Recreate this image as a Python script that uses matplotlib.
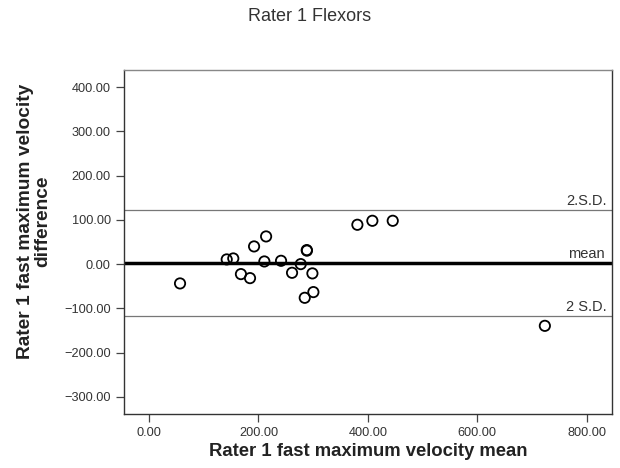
import matplotlib
matplotlib.use('Agg')
import matplotlib.pyplot as plt

plt.rcParams['font.family'] = ['Liberation Sans', 'DejaVu Sans']

# data
mean_vals = [56.7, 142, 154, 168, 184.6, 192, 214, 210.8, 241.3, 261.4,
             277.3, 288.3, 288.6, 298.6, 300.4, 284.6, 380.8, 408.2, 445.4, 723.4]
diff_vals = [-43.7, 10.6, 12.8, -22.6, -31.7, 40, 62.6, 6, 7.5, -19.6,
             0, 31.7, 30.5, -21, -63.3, -76.2, 89, 98, 98, -139.6]
mean_diff = 1.5
upper_sd = 122.9
lower_sd = -117.6
x_ticks = [0, 200, 400, 600, 800]
y_ticks = [-300, -200, -100, 0, 100, 200, 300, 400]

fig = plt.figure(figsize=(6.2, 4.68), dpi=100)
ax = fig.add_axes([0.2, 0.1154, 0.787, 0.735])

ax.scatter(mean_vals, diff_vals, s=55, facecolors='none', edgecolors='black', linewidths=1.3, zorder=3)

ax.axhline(upper_sd, color='#777777', linewidth=0.9)
ax.axhline(mean_diff, color='black', linewidth=2.5)
ax.axhline(lower_sd, color='#777777', linewidth=0.9)

ax.text(837, upper_sd + 11, '2.S.D.', ha='right', va='baseline', fontsize=10.5, color='#333333')
ax.text(832, mean_diff + 13, 'mean', ha='right', va='baseline', fontsize=10.5, color='#333333')
ax.text(837, lower_sd + 11, '2 S.D.', ha='right', va='baseline', fontsize=10.5, color='#333333')

ax.set_xlim(-45.7, 846)
ax.set_ylim(-339, 439)
ax.set_xticks(x_ticks)
ax.set_xticklabels([f'{v:.2f}' for v in x_ticks])
ax.set_yticks(y_ticks)
ax.set_yticklabels([f'{v:.2f}'.replace('-', '\u2212') for v in y_ticks])
ax.tick_params(direction='out', length=6, width=0.9, colors='#444444', labelsize=9.2, labelcolor='#333333')

for sp in ax.spines.values():
    sp.set_color('#333333')
    sp.set_linewidth(1.0)
ax.spines['top'].set_color('#888888')

ax.set_xlabel('Rater 1 fast maximum velocity mean', fontsize=13.3, fontweight='bold', color='#222222', labelpad=3)
ax.set_ylabel('Rater 1 fast maximum velocity\ndifference', fontsize=13.8, fontweight='bold', color='#222222',
              linespacing=1.0)
ax.yaxis.set_label_coords(-0.149, 0.559)

fig.text(0.5, 0.965, 'Rater 1 Flexors', ha='center', va='center', fontsize=13, color='#333333')

fig.savefig('out.png', dpi=100)
